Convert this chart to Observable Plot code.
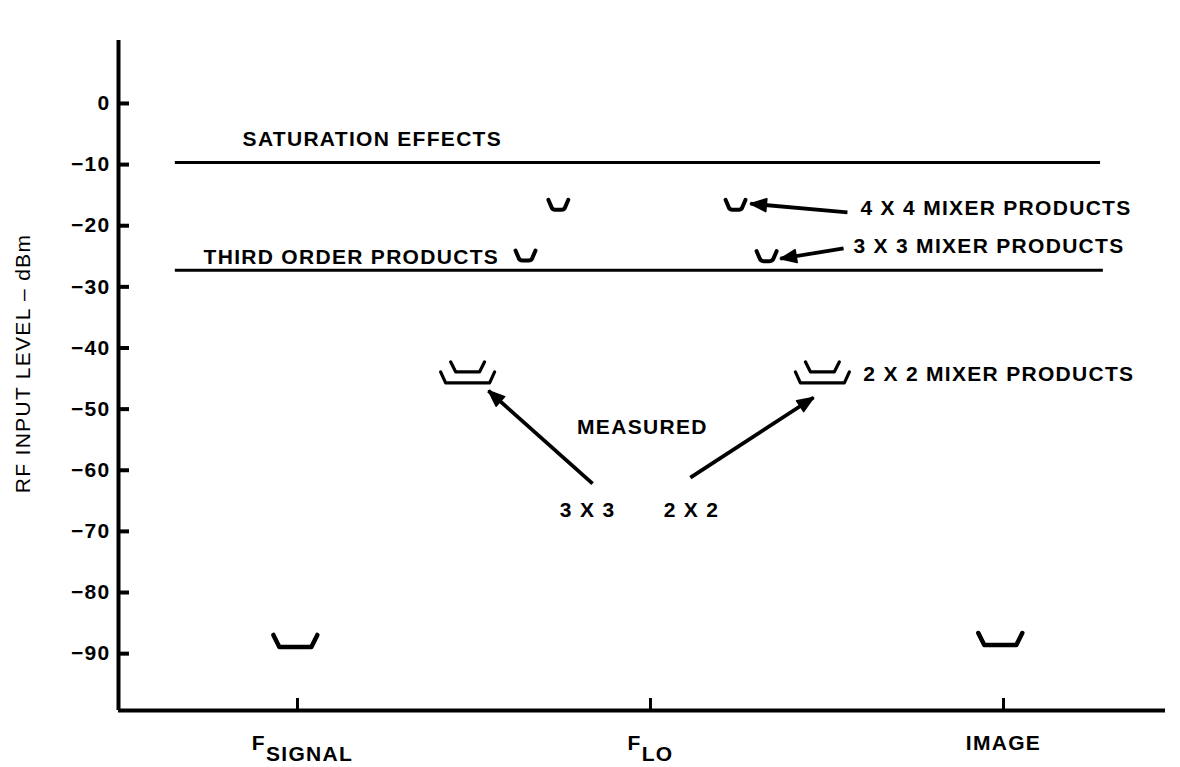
<!DOCTYPE html>
<html>
<head>
<meta charset="utf-8">
<script src="https://cdn.jsdelivr.net/npm/d3@7"></script>
<script src="https://cdn.jsdelivr.net/npm/@observablehq/plot@0.6"></script>
<style>
  html, body { margin: 0; padding: 0; background: #fff; }
  #chart svg { display: block; }
</style>
</head>
<body>
<div id="chart"></div>
<script>
// ---- data ----
const yTicks = [0, -10, -20, -30, -40, -50, -60, -70, -80, -90];
const xTickPos = [-1, 0, 1];
const xTickMain = ["F", "F", "IMAGE"];
const xTickSub = ["SIGNAL", "LO", ""];
const yLabel = "RF INPUT LEVEL – dBm";

const levelLines = [
  {name: "SATURATION EFFECTS", y: -9.65, x1: -1.346, x2: 1.275},
  {name: "THIRD ORDER PRODUCTS", y: -27.3, x1: -1.346, x2: 1.283}
];
const smallCups = [
  {order: "4 X 4", x: -0.261, y: -17.4},
  {order: "4 X 4", x: 0.241, y: -17.4},
  {order: "3 X 3", x: -0.354, y: -25.7},
  {order: "3 X 3", x: 0.329, y: -25.8}
];
const measuredCups = [
  {order: "3 X 3", x: -0.518, y: -45.7},
  {order: "2 X 2", x: 0.487, y: -45.7}
];
const carrierCups = [
  {name: "SIGNAL", x: -1.006, y: -88.9},
  {name: "IMAGE", x: 0.991, y: -88.6}
];
const labelsMiddle = [
  {text: "SATURATION EFFECTS", x: -0.788, y: -5.8},
  {text: "MEASURED", x: -0.023, y: -52.9},
  {text: "3 X 3", x: -0.178, y: -66.6},
  {text: "2 X 2", x: 0.116, y: -66.6}
];
const labelsStart = [
  {text: "THIRD ORDER PRODUCTS", x: -1.266, y: -25.1},
  {text: "4 X 4 MIXER PRODUCTS", x: 0.595, y: -17.1},
  {text: "3 X 3 MIXER PRODUCTS", x: 0.575, y: -23.3},
  {text: "2 X 2 MIXER PRODUCTS", x: 0.603, y: -44.3}
];
const arrows = [
  {x1: -0.164, y1: -62.2, x2: -0.459, y2: -47.0},
  {x1: 0.113, y1: -61.2, x2: 0.462, y2: -48.1},
  {x1: 0.558, y1: -17.8, x2: 0.283, y2: -16.4},
  {x1: 0.547, y1: -23.7, x2: 0.368, y2: -25.4}
];
const xDomain = [-1.507, 1.459];
const yDomain = [-99.3, 10.3];

// ---- layout & shapes ----
const FONT = "'Liberation Sans', Arial, Helvetica, sans-serif";
const W = 1180, H = 767, ML = 118, MR = 15, MT = 40, MB = 57;
const kx = (W - ML - MR) / (xDomain[1] - xDomain[0]);
const ky = (H - MT - MB) / (yDomain[1] - yDomain[0]);
const TICK_PX = 11;

const cupSmall = {draw(c) {
  c.moveTo(-10, -10); c.lineTo(-7, -3); c.quadraticCurveTo(-6, 0, -3, 0);
  c.lineTo(3, 0); c.quadraticCurveTo(6, 0, 7, -3); c.lineTo(10, -10);
}};
const cupBig = {draw(c) {
  c.moveTo(-22, -12); c.lineTo(-16, 0); c.lineTo(16, 0); c.lineTo(22, -12);
}};
const cupDouble = {draw(c) {
  c.moveTo(-17, -21); c.lineTo(-12, -11); c.lineTo(12, -11); c.lineTo(17, -21);
  c.moveTo(-27, -11); c.lineTo(-22, 0); c.lineTo(22, 0); c.lineTo(27, -11);
}};
const headShape = {draw(c, l) {
  c.moveTo(0, -l); c.lineTo(-6.5, -l + 16); c.lineTo(6.5, -l + 16); c.closePath();
}};
const headAngle = d => Math.atan2((d.x2 - d.x1) * kx, (d.y2 - d.y1) * ky) * 180 / Math.PI;

const plot = Plot.plot({
  width: W, height: H,
  marginLeft: ML, marginRight: MR, marginTop: MT, marginBottom: MB,
  x: {domain: xDomain},
  y: {domain: yDomain},
  style: {fontFamily: FONT, fontWeight: "bold", letterSpacing: "1.3px", color: "#000", background: "#fff"},
  marks: [
    Plot.axisY(yTicks, {tickSize: 0, tickPadding: 8, fontSize: 21, fontWeight: "bold", label: null,
      tickFormat: d => (d < 0 ? "\u2212" + Math.abs(d) : String(d))}),
    Plot.axisX(xTickPos, {tickSize: 0, tickPadding: 25, fontSize: 21, fontWeight: "bold", label: null,
      tickFormat: (d, i) => xTickMain[i] + xTickSub[i]}),
    // axis lines
    Plot.ruleX([xDomain[0]], {strokeWidth: 4}),
    Plot.ruleY([yDomain[0]], {strokeWidth: 4}),
    // inward ticks
    Plot.ruleY(yTicks, {y: d => d, x1: xDomain[0], x2: xDomain[0] + TICK_PX / kx, stroke: "#000", strokeWidth: 4}),
    Plot.ruleX(xTickPos, {x: d => d, y1: yDomain[0], y2: yDomain[0] + 12 / ky, stroke: "#000", strokeWidth: 3}),
    // level lines
    Plot.ruleY(levelLines, {y: "y", x1: "x1", x2: "x2", strokeWidth: 3}),
    // product symbols
    Plot.dot(smallCups, {x: "x", y: "y", symbol: cupSmall, fill: "none", stroke: "#000", strokeWidth: 4, strokeLinejoin: "round", strokeLinecap: "round"}),
    Plot.dot(measuredCups, {x: "x", y: "y", symbol: cupDouble, fill: "none", stroke: "#000", strokeWidth: 3.2, strokeLinejoin: "round", strokeLinecap: "round"}),
    Plot.dot(carrierCups, {x: "x", y: "y", symbol: cupBig, fill: "none", stroke: "#000", strokeWidth: 4.5, strokeLinejoin: "round", strokeLinecap: "round"}),
    // arrows: shaft + filled head
    Plot.link(arrows, {x1: "x1", y1: "y1", x2: "x2", y2: "y2", stroke: "#000", strokeWidth: 3.8}),
    Plot.vector(arrows, {x: "x2", y: "y2", rotate: headAngle, length: 16, anchor: "end", shape: headShape, fill: "#000", stroke: "#000", strokeWidth: 1.5}),
    // annotations
    Plot.text(labelsMiddle, {x: "x", y: "y", text: "text", fontSize: 21, fontWeight: "bold", textAnchor: "middle", lineAnchor: "middle", fill: "#000"}),
    Plot.text(labelsStart, {x: "x", y: "y", text: "text", fontSize: 21, fontWeight: "bold", textAnchor: "start", lineAnchor: "middle", fill: "#000"}),
    // y-axis title
    Plot.text([yLabel], {frameAnchor: "left", text: d => d, rotate: -90, dx: -95, dy: -12, fontSize: 21, fontWeight: "normal", textAnchor: "middle", lineAnchor: "middle", fill: "#000"})
  ]
});

// subscripts on the x tick labels
const xt = plot.querySelectorAll('g[aria-label="x-axis tick label"] text');
xt.forEach((t, i) => {
  const main = xTickMain[i], sub = xTickSub[i];
  if (!sub) return;
  t.textContent = "";
  const a = document.createElementNS("http://www.w3.org/2000/svg", "tspan");
  a.textContent = main;
  const b = document.createElementNS("http://www.w3.org/2000/svg", "tspan");
  b.setAttribute("dy", "11");
  b.textContent = sub;
  t.appendChild(a); t.appendChild(b);
  if (i === 0) t.setAttribute("dx", "5");
});

document.getElementById("chart").appendChild(plot);
</script>
</body>
</html>
